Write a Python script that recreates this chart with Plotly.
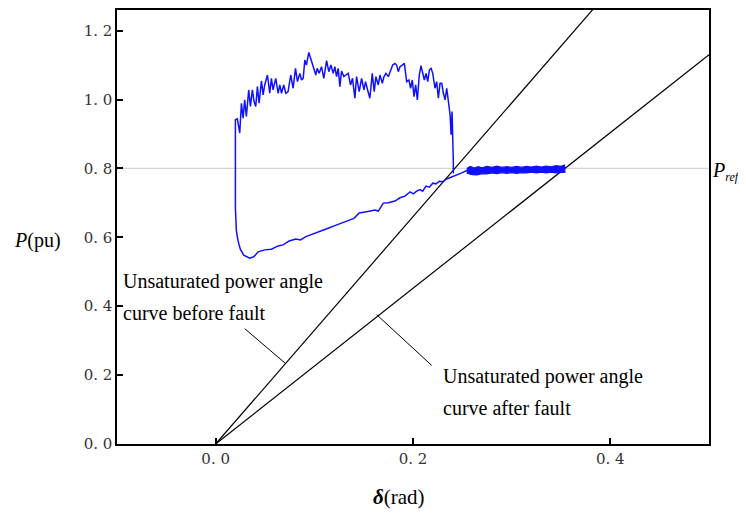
import plotly.graph_objects as go

# ---------------- data ----------------
x_ticks = [0.0, 0.2, 0.4]
x_tick_text = ["0. 0", "0. 2", "0. 4"]
y_ticks = [0.0, 0.2, 0.4, 0.6, 0.8, 1.0, 1.2]
y_tick_text = ["0. 0", "0. 2", "0. 4", "0. 6", "0. 8", "1. 0", "1. 2"]

p_ref = 0.8

# unsaturated power-angle curves (straight lines through origin)
before_x = [0.0, 0.40]
before_y = [0.0, 1.32]
after_x = [0.0, 0.50]
after_y = [0.0, 1.13]

# trajectory: lower branch (left to right)
lower_x = [0.0200, 0.0200, 0.0210, 0.0227, 0.0250, 0.0284, 0.0345, 0.0386, 0.0430,
           0.0497, 0.0565, 0.0633, 0.0684, 0.0745, 0.0812, 0.0860, 0.0914, 0.0988,
           0.1063, 0.1140, 0.1208, 0.1293, 0.1401, 0.1455, 0.1530, 0.1614, 0.1648,
           0.1699, 0.1750, 0.1817, 0.1868, 0.1919, 0.1970, 0.2003, 0.2037, 0.2071,
           0.2098, 0.2132, 0.2166, 0.2200, 0.2234, 0.2267, 0.2301, 0.2335, 0.2369,
           0.2403, 0.2450, 0.2494, 0.2545, 0.2596]
lower_y = [0.8000, 0.6859, 0.6185, 0.5896, 0.5655, 0.5482, 0.5395, 0.5434, 0.5578,
           0.5636, 0.5655, 0.5751, 0.5780, 0.5896, 0.5954, 0.5925, 0.6021, 0.6108,
           0.6185, 0.6262, 0.6339, 0.6445, 0.6551, 0.6705, 0.6744, 0.6792, 0.6763,
           0.6994, 0.7004, 0.7052, 0.7148, 0.7197, 0.7322, 0.7264, 0.7341, 0.7389,
           0.7341, 0.7486, 0.7457, 0.7572, 0.7553, 0.7630, 0.7611, 0.7688, 0.7726,
           0.7784, 0.7823, 0.7871, 0.7938, 0.7957]

# trajectory: upper branch (left to right)
upper_x = [0.0200, 0.0200, 0.0220, 0.0244, 0.0261, 0.0278, 0.0294, 0.0311, 0.0335,
           0.0352, 0.0372, 0.0389, 0.0406, 0.0423, 0.0440, 0.0464, 0.0481, 0.0497,
           0.0525, 0.0548, 0.0565, 0.0582, 0.0609, 0.0633, 0.0650, 0.0667, 0.0690,
           0.0711, 0.0734, 0.0761, 0.0785, 0.0809, 0.0829, 0.0853, 0.0870, 0.0887,
           0.0904, 0.0920, 0.0944, 0.0971, 0.0988, 0.1015, 0.1029, 0.1049, 0.1073,
           0.1096, 0.1124, 0.1147, 0.1168, 0.1191, 0.1208, 0.1225, 0.1242, 0.1259,
           0.1276, 0.1299, 0.1320, 0.1343, 0.1367, 0.1387, 0.1411, 0.1428, 0.1455,
           0.1479, 0.1503, 0.1519, 0.1540, 0.1563, 0.1587, 0.1607, 0.1624, 0.1648,
           0.1665, 0.1689, 0.1706, 0.1726, 0.1750, 0.1766, 0.1794, 0.1817, 0.1834,
           0.1851, 0.1868, 0.1892, 0.1912, 0.1936, 0.1959, 0.1976, 0.1993, 0.2010,
           0.2027, 0.2044, 0.2064, 0.2081, 0.2098, 0.2115, 0.2132, 0.2149, 0.2166,
           0.2183, 0.2200, 0.2223, 0.2240, 0.2257, 0.2274, 0.2291, 0.2308, 0.2325,
           0.2342, 0.2359, 0.2376, 0.2386, 0.2396, 0.2409, 0.2409, 0.2409]
upper_y = [0.8000, 0.9412, 0.9441, 0.9027, 0.9894, 0.9461, 0.9990, 0.9509, 1.0279,
           0.9798, 1.0279, 0.9942, 0.9798, 1.0376, 0.9894, 1.0540, 1.0135, 1.0424,
           1.0713, 1.0183, 1.0617, 1.0279, 1.0617, 1.0183, 1.0424, 1.0183, 1.0424,
           1.0183, 1.0231, 1.0713, 1.0328, 1.0906, 1.0520, 1.0761, 1.0568, 1.0617,
           1.1146, 1.1002, 1.1368, 1.1098, 1.0954, 1.0713, 1.0906, 1.0761, 1.0954,
           1.0617, 1.1127, 1.0809, 1.1002, 1.0761, 1.0954, 1.0665, 1.0906, 1.0376,
           1.0829, 1.0665, 1.0713, 1.0761, 1.0424, 1.0617, 1.0039, 1.0665, 1.0231,
           1.0617, 1.0279, 1.0520, 1.0279, 1.0039, 1.0761, 1.0231, 1.0665, 1.0424,
           1.0713, 1.0472, 1.0665, 1.0761, 1.0665, 1.0809, 1.1002, 1.1050, 1.1002,
           1.0809, 1.0954, 1.1002, 1.1050, 1.0520, 1.0568, 1.0328, 1.0568, 1.0087,
           1.0424, 0.9990, 1.0713, 1.0983, 1.0809, 1.0568, 1.0761, 1.0520, 1.0857,
           1.0906, 1.0761, 1.0328, 1.0520, 1.0039, 1.0472, 1.0472, 1.0183, 0.9990,
           1.0328, 0.9894, 0.9557, 0.8979, 0.9653, 0.8160, 0.8015, 0.7850]

# steady-state oscillation band after fault: upper and lower envelopes
band_top_x = [0.2545, 0.2580, 0.2620, 0.2660, 0.2700, 0.2750, 0.2800, 0.2850, 0.2900,
              0.2950, 0.3000, 0.3050, 0.3100, 0.3150, 0.3200, 0.3250, 0.3300, 0.3350,
              0.3400, 0.3450, 0.3500, 0.3535]
band_top_y = [0.800, 0.806, 0.801, 0.805, 0.802, 0.806, 0.803, 0.807, 0.803,
              0.805, 0.803, 0.806, 0.803, 0.806, 0.804, 0.807, 0.804, 0.807,
              0.805, 0.808, 0.806, 0.810]
band_bot_x = [0.2545, 0.2600, 0.2650, 0.2700, 0.2750, 0.2800, 0.2850, 0.2900, 0.2950,
              0.3000, 0.3050, 0.3100, 0.3150, 0.3200, 0.3250, 0.3300, 0.3350, 0.3400,
              0.3450, 0.3500, 0.3540]
band_bot_y = [0.786, 0.782, 0.781, 0.785, 0.784, 0.787, 0.785, 0.788, 0.786,
              0.788, 0.786, 0.788, 0.787, 0.789, 0.787, 0.789, 0.787, 0.789,
              0.787, 0.788, 0.789]

label_before = ["Unsaturated power angle", "curve before fault"]
label_after = ["Unsaturated power angle", "curve after fault"]
leader_before_x = [0.0294, 0.0711]
leader_before_y = [0.335, 0.233]
leader_after_x = [0.1631, 0.2190]
leader_after_y = [0.3757, 0.2280]

# ---------------- figure ----------------
BLUE = "#1010ff"
fig = go.Figure()

# P_ref reference line
fig.add_trace(go.Scatter(x=[-0.1, 0.5], y=[p_ref, p_ref], mode="lines",
                         line=dict(color="#d4d4d4", width=1.2), hoverinfo="skip"))

fig.add_trace(go.Scatter(x=before_x, y=before_y, mode="lines",
                         line=dict(color="black", width=1.2)))
fig.add_trace(go.Scatter(x=after_x, y=after_y, mode="lines",
                         line=dict(color="black", width=1.2)))

# leader lines
fig.add_trace(go.Scatter(x=leader_before_x, y=leader_before_y, mode="lines",
                         line=dict(color="black", width=1)))
fig.add_trace(go.Scatter(x=leader_after_x, y=leader_after_y, mode="lines",
                         line=dict(color="black", width=1)))

# trajectory
traj_x = lower_x[::-1] + upper_x
traj_y = lower_y[::-1] + upper_y
fig.add_trace(go.Scatter(x=traj_x, y=traj_y, mode="lines",
                         line=dict(color=BLUE, width=1.5)))

band_x = band_top_x + band_bot_x[::-1]
band_y = band_top_y + band_bot_y[::-1]
fig.add_trace(go.Scatter(x=band_x, y=band_y, mode="lines", fill="toself",
                         fillcolor=BLUE, line=dict(color=BLUE, width=1.2)))

serif = "Liberation Serif"
ann = []
for i, t in enumerate(label_before):
    ann.append(dict(x=-0.0964, y=[0.471, 0.379][i], xref="x", yref="y", text=t,
                    showarrow=False, xanchor="left", yanchor="middle",
                    font=dict(family=serif, size=20, color="black")))
for i, t in enumerate(label_after):
    ann.append(dict(x=0.2284, y=[0.1965, 0.104][i], xref="x", yref="y", text=t,
                    showarrow=False, xanchor="left", yanchor="middle",
                    font=dict(family=serif, size=20, color="black")))
ann.append(dict(x=1.056, y=p_ref, xref="paper", yref="y",
                text="<i>P<sub><span style='font-size:12px'>ref</span></sub></i>",
                showarrow=False,
                xanchor="right", yanchor="middle", yshift=-3,
                font=dict(family=serif, size=20, color="black")))
ann.append(dict(x=-0.135, y=0.468, xref="paper", yref="paper",
                text="<i>P</i>(pu)", showarrow=False,
                xanchor="center", yanchor="middle",
                font=dict(family=serif, size=20, color="black")))
ann.append(dict(x=0.476, y=-0.1216, xref="paper", yref="paper",
                text="<b><i>δ</i></b>(rad)", showarrow=False,
                xanchor="center", yanchor="middle",
                font=dict(family=serif, size=21, color="black")))

axis_common = dict(showline=True, linecolor="black", linewidth=1.5, mirror=True,
                   ticks="inside", ticklen=6, tickwidth=1.5, tickcolor="black",
                   showgrid=False, zeroline=False,
                   tickfont=dict(family="DejaVu Serif", size=15, color="#333333"))

# the page body adds an 8px offset, so the figure is 8px smaller on each axis
fig.update_layout(
    width=738, height=508,
    margin=dict(l=109, r=37, t=0, b=72),
    paper_bgcolor="white", plot_bgcolor="white",
    showlegend=False,
    annotations=ann,
    xaxis=dict(range=[-0.1, 0.5], tickvals=x_ticks, ticktext=x_tick_text, **axis_common),
    yaxis=dict(range=[0.0, 1.26], tickvals=y_ticks, ticktext=y_tick_text, **axis_common),
)

fig.write_html("out.html")
